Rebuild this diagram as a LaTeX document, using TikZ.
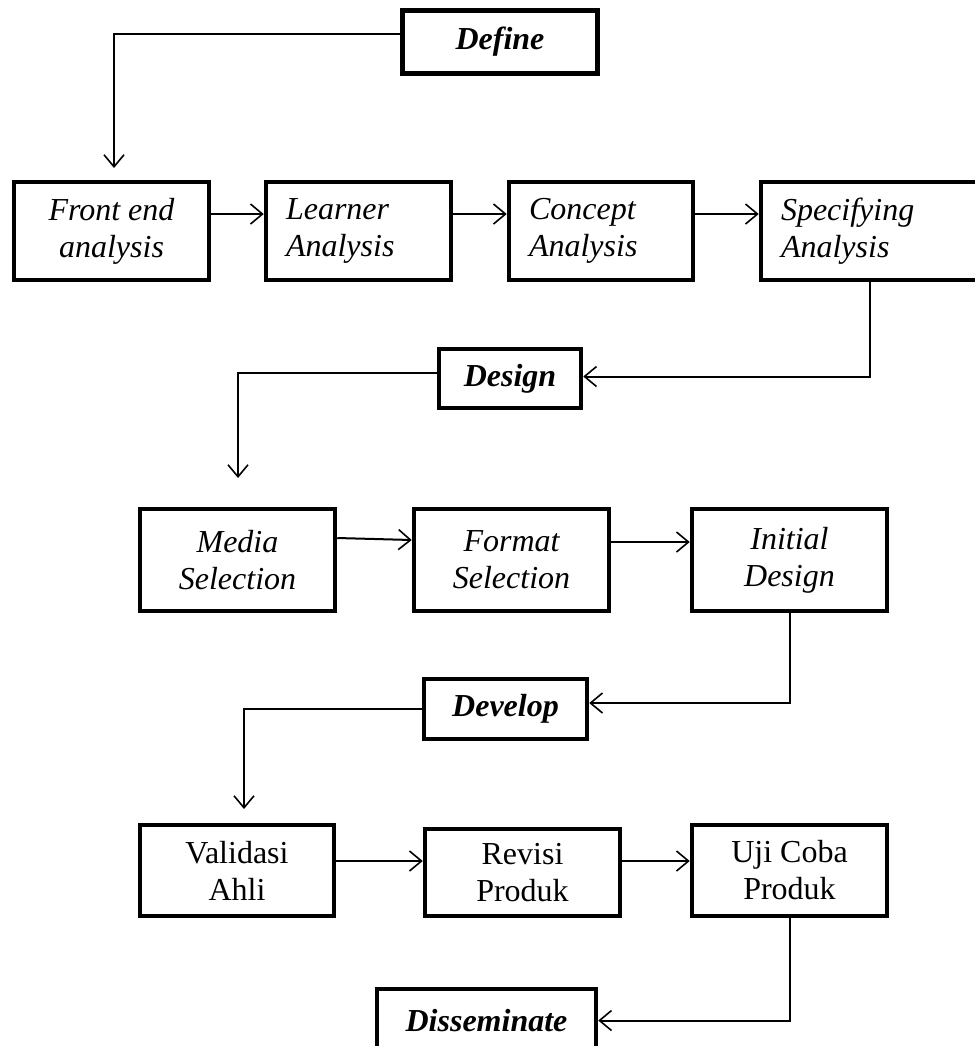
\documentclass[tikz,border=0pt]{standalone}
\usepackage{fontspec}
\setmainfont{Liberation Serif}
\usetikzlibrary{arrows.meta}

\tikzset{
  kotak/.style={draw, line width=2.25pt, inner sep=0pt, align=center,
    font=\fontsize{16}{18.5}\selectfont\itshape},
  kiri/.style={kotak, align=left, inner xsep=10pt},
  tegak/.style={kotak, font=\fontsize{16}{18.5}\selectfont},
  fase/.style={draw, line width=2.25pt, inner sep=0pt,
    font=\fontsize{16}{18.5}\selectfont\bfseries\itshape},
  panah/.style={line width=1pt, -{Straight Barb[length=6pt,width=10pt,line width=0.8pt]}}
}

\begin{document}
\begin{tikzpicture}[x=0.5pt,y=-0.5pt]
        \useasboundingbox (0,0) rectangle (975,1046);

        % define
        \node[fase, minimum width=97.5pt, minimum height=31.5pt] (define) at (500,42) {Define};
        \node[kotak, minimum width=97.5pt, minimum height=49pt] (front) at (111.5,231) {Front end\\analysis};
        \node[kiri, text width=72.5pt, minimum height=49pt] (learner) at (358.5,231) {Learner\\Analysis};
        \node[kiri, text width=72pt, minimum height=49pt] (concept) at (601,231) {Concept\\Analysis};
        \node[kiri, text width=88.5pt, minimum height=49pt] (spec) at (869.5,231) {Specifying\\Analysis};

        % design
        \node[fase, minimum width=71pt, minimum height=29.5pt] (design) at (510,378.5) {Design};
        \node[kotak, minimum width=97.5pt, minimum height=51pt] (media) at (237.5,560) {Media\\Selection};
        \node[kotak, minimum width=97.5pt, minimum height=51pt] (format) at (511.5,560) {Format\\Selection};
        \node[kotak, minimum width=97.5pt, minimum height=51pt] (initial) at (789.5,560) {Initial\\Design};

        % develop
        \node[fase, minimum width=81.5pt, minimum height=30pt] (develop) at (505.5,709) {Develop};
        \node[tegak, minimum width=97pt, minimum height=45.5pt] (valid) at (237,870.5) {Validasi\\Ahli};
        \node[tegak, minimum width=97.5pt, minimum height=43.5pt] (revisi) at (522.5,872.5) {Revisi\\Produk};
        \node[tegak, minimum width=97.5pt, minimum height=45.5pt] (uji) at (789.5,870.5) {Uji Coba\\Produk};

        % disseminate
        \node[fase, minimum width=109.5pt, minimum height=31.5pt] (dissem) at (486.5,1020.5) {Disseminate};

        \coordinate (t1) at (114,168);
        \coordinate (t2) at (238,478);
        \coordinate (t3) at (244,809);

        \draw[panah] ([yshift=4pt]define.west) -| (t1);
        \draw[panah] ([yshift=8.5pt]front.east) -- ([yshift=8.5pt]front.east -| learner.west);
        \draw[panah] ([yshift=8.5pt]learner.east) -- ([yshift=8.5pt]learner.east -| concept.west);
        \draw[panah] ([yshift=8.5pt]concept.east) -- ([yshift=8.5pt]concept.east -| spec.west);
        \draw[panah] (spec.south) |- ([yshift=1pt]design.east);
        \draw[panah] ([yshift=3pt]design.west) -| (t2);
        \draw[panah] ([yshift=11pt]media.east) -- ([yshift=10pt]format.west);
        \draw[panah] ([yshift=9pt]format.east) -- ([yshift=9pt]format.east -| initial.west);
        \draw[panah] (initial.south) |- ([yshift=3pt]develop.east);
        \draw[panah] (develop.west) -| (t3);
        \draw[panah] ([yshift=4.75pt]valid.east) -- ([yshift=4.75pt]valid.east -| revisi.west);
        \draw[panah] ([yshift=4.75pt]valid.east -| revisi.east) -- ([yshift=4.75pt]valid.east -| uji.west);
        \draw[panah] (uji.south) |- (dissem.east);
    \end{tikzpicture}
\end{document}
